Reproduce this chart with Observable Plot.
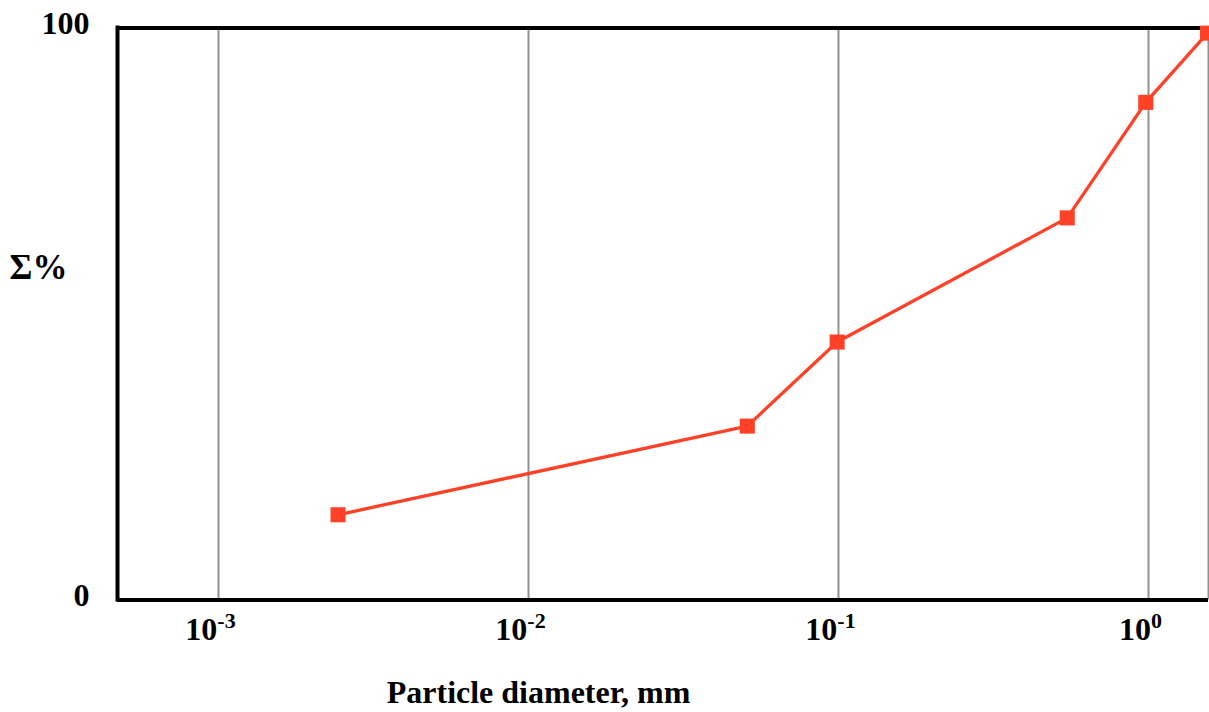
<!DOCTYPE html>
<html>
<head>
<meta charset="utf-8">
<script src="https://cdn.jsdelivr.net/npm/d3@7"></script>
<script src="https://cdn.jsdelivr.net/npm/@observablehq/plot@0.6"></script>
<style>
  html, body { margin: 0; padding: 0; background: #fff; }
  #chart { width: 1209px; height: 712px; overflow: hidden; }
</style>
</head>
<body>
<div id="chart"></div>
<script>
// Data
const diameters = [0.00243, 0.0508, 0.099, 0.547, 0.98, 1.55];   // mm
const cumulative = [14.9, 30.4, 45.1, 66.8, 87.0, 99.1];          // Σ%
const xTicks = [0.001, 0.01, 0.1, 1];
const yTicks = [0, 100];
const xLabel = "Particle diameter, mm";
const yLabel = "Σ%";

const rows = diameters.map((d, i) => ({d, p: cumulative[i]}));
const xDomain = [Math.pow(10, -3.3258), Math.pow(10, 0.1936)];
const red = "#ff4128";
const grid = "#929289";

const chart = Plot.plot({
  width: 1209,
  height: 712,
  marginLeft: 117,
  marginRight: 1,
  marginTop: 27.5,
  marginBottom: 112.5,
  style: {fontFamily: "'Liberation Serif', 'Times New Roman', serif", fontWeight: "bold", fontSize: "32px", background: "white", color: "black", overflow: "visible"},
  x: {type: "log", domain: xDomain},
  y: {domain: [0, 100]},
  marks: [
    Plot.ruleX(xTicks, {stroke: grid, strokeWidth: 2}),
    Plot.ruleX([xDomain[1]], {stroke: grid, strokeWidth: 2}),
    Plot.ruleY([0, 100], {stroke: "black", strokeWidth: 4}),
    Plot.ruleX([xDomain[0]], {stroke: "black", strokeWidth: 4, y1: 0, y2: 100, strokeLinecap: "square"}),
    Plot.line(rows, {x: "d", y: "p", stroke: red, strokeWidth: 3.3}),
    Plot.dot(rows, {x: "d", y: "p", symbol: "square", r: 8.5, fill: red, stroke: "none"}),
    Plot.axisX({ticks: xTicks, tickSize: 0, tickPadding: 17, fontSize: 32, fontWeight: "bold", dx: -8,
      tickFormat: d => "10^" + Math.round(Math.log10(d)), label: null}),
    Plot.axisY({ticks: yTicks, tickSize: 0, tickPadding: 28, fontSize: 32, fontWeight: "bold", dy: -4,
      tickFormat: d => String(d), label: null}),
    Plot.text([xLabel], {frameAnchor: "bottom-left", dx: 421, dy: 103, textAnchor: "middle", fontSize: 32, fontWeight: "bold"}),
    Plot.text([yLabel], {frameAnchor: "top-left", dx: -79, dy: 226, textAnchor: "middle", fontSize: 35, fontWeight: "bold"})
  ]
});

document.getElementById("chart").appendChild(chart);

// Render x tick labels as 10 with a superscript exponent
d3.select(chart).selectAll('g[aria-label="x-axis tick label"] text').each(function() {
  const t = d3.select(this);
  const s = t.text();
  const parts = s.split("^");
  if (parts.length === 2) {
    t.text(parts[0]);
    t.append("tspan").attr("dy", "-12px").attr("font-size", "22px").text(parts[1]);
  }
});
</script>
</body>
</html>
